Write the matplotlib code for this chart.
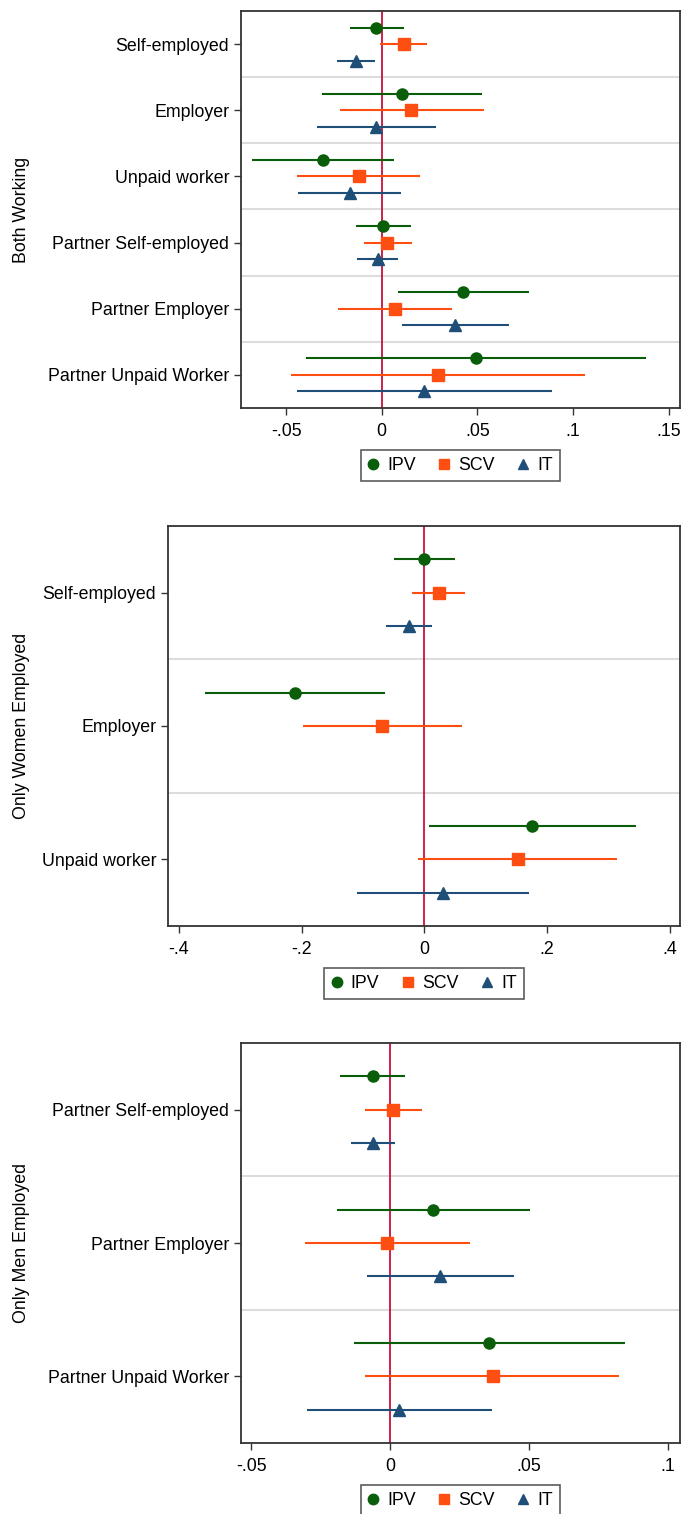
import numpy as np
import matplotlib
matplotlib.use("Agg")
from matplotlib import pyplot as plt
from matplotlib.lines import Line2D

plt.rcParams['font.family'] = ['Liberation Sans', 'DejaVu Sans']

# Блок данных: коэффициенты и доверительные интервалы
series = ["IPV", "SCV", "IT"]

cats_both = ["Self-employed", "Employer", "Unpaid worker",
             "Partner Self-employed", "Partner Employer", "Partner Unpaid Worker"]
both_ipv = [-0.003, 0.0107, -0.0309, 0.0007, 0.0427, 0.0493]
both_ipv_lo = [-0.0166, -0.0311, -0.0677, -0.0136, 0.0084, -0.0395]
both_ipv_hi = [0.0114, 0.0525, 0.0064, 0.0152, 0.077, 0.1382]
both_scv = [0.0116, 0.0155, -0.012, 0.003, 0.0068, 0.0293]
both_scv_lo = [-0.0007, -0.022, -0.0443, -0.0095, -0.0227, -0.0473]
both_scv_hi = [0.0239, 0.0534, 0.0202, 0.0159, 0.0368, 0.1061]
both_it = [-0.0134, -0.003, -0.0168, -0.002, 0.0384, 0.0223]
both_it_lo = [-0.0232, -0.0339, -0.0436, -0.013, 0.0105, -0.0441]
both_it_hi = [-0.0034, 0.0284, 0.0102, 0.0086, 0.0664, 0.0891]

cats_women = ["Self-employed", "Employer", "Unpaid worker"]
women_ipv = [0.0, -0.211, 0.175]
women_ipv_lo = [-0.05, -0.358, 0.007]
women_ipv_hi = [0.05, -0.0648, 0.345]
women_scv = [0.0235, -0.0683, 0.152]
women_scv_lo = [-0.02, -0.198, -0.01]
women_scv_hi = [0.066, 0.061, 0.315]
women_it = [-0.0256, np.nan, 0.0306]
women_it_lo = [-0.0626, np.nan, -0.1096]
women_it_hi = [0.012, np.nan, 0.170]

cats_men = ["Partner Self-employed", "Partner Employer", "Partner Unpaid Worker"]
men_ipv = [-0.00625, 0.0156, 0.0358]
men_ipv_lo = [-0.018, -0.019, -0.0128]
men_ipv_hi = [0.0055, 0.0505, 0.0845]
men_scv = [0.00125, -0.0011, 0.037]
men_scv_lo = [-0.009, -0.0308, -0.0089]
men_scv_hi = [0.0116, 0.029, 0.0825]
men_it = [-0.0061, 0.0181, 0.0034]
men_it_lo = [-0.014, -0.0084, -0.030]
men_it_hi = [0.0019, 0.0447, 0.0369]

colors = ["#0a5e0a", "#ff4e12", "#1f4e79"]
markers = ["o", "s", "^"]
offsets = [-0.25, 0.0, 0.25]

W, H = 682, 1514
fig = plt.figure(figsize=(W / 100, H / 100), dpi=100)


def panel(box, cats, est, lo, hi, xlim, xticks, xticklabels, ylabel):
    left, right, top, bottom = box
    ax = fig.add_axes([left / W, 1 - bottom / H, (right - left) / W, (bottom - top) / H])
    n = len(cats)
    base = np.arange(n) + 0.5
    for k in range(3):
        y = base + offsets[k]
        e = np.array(est[k], dtype=float)
        l = np.array(lo[k], dtype=float)
        h = np.array(hi[k], dtype=float)
        ax.hlines(y, l, h, color=colors[k], lw=1.5, zorder=3)
        ax.plot(e, y, linestyle="none", marker=markers[k], color=colors[k],
                markersize=8, zorder=4)
    for s in range(1, n):
        ax.axhline(s, color="#dcdcdc", lw=1.5, zorder=1)
    ax.axvline(0, color="#c8103e", lw=1.3, zorder=2)
    ax.set_ylim(n, 0)
    ax.set_xlim(*xlim)
    ax.set_yticks(base)
    ax.set_yticklabels(cats, fontsize=12.8)
    ax.set_xticks(xticks)
    ax.set_xticklabels(xticklabels, fontsize=12.8)
    ax.tick_params(axis="both", length=5, width=1, color="#333333")
    ax.tick_params(axis="x", pad=6)
    for sp in ax.spines.values():
        sp.set_color("#333333")
        sp.set_linewidth(1.3)
    fig.text(22 / W, 1 - (top + bottom) / 2 / H, ylabel, rotation=90,
             ha="center", va="center", fontsize=12.8)
    handles = [Line2D([], [], linestyle="none", marker=markers[k], color=colors[k],
                      markersize=7.5) for k in range(3)]
    leg = ax.legend(handles, series, loc="upper center", bbox_to_anchor=(0.5, -42 / (bottom - top)),
                    ncol=3, fontsize=12.8, frameon=True, fancybox=False, edgecolor="#333333",
                    handlelength=0.6, handletextpad=0.5, columnspacing=1.3, borderpad=0.4,
                    borderaxespad=0)
    leg.get_frame().set_linewidth(1.2)
    return ax


panel((241, 680, 11, 408), cats_both,
      [both_ipv, both_scv, both_it], [both_ipv_lo, both_scv_lo, both_it_lo],
      [both_ipv_hi, both_scv_hi, both_it_hi],
      (-0.0736, 0.156), [-0.05, 0, 0.05, 0.1, 0.15], ["-.05", "0", ".05", ".1", ".15"],
      "Both Working")

panel((168, 680, 526, 926), cats_women,
      [women_ipv, women_scv, women_it], [women_ipv_lo, women_scv_lo, women_it_lo],
      [women_ipv_hi, women_scv_hi, women_it_hi],
      (-0.418, 0.417), [-0.4, -0.2, 0, 0.2, 0.4], ["-.4", "-.2", "0", ".2", ".4"],
      "Only Women Employed")

panel((241, 680, 1043, 1443), cats_men,
      [men_ipv, men_scv, men_it], [men_ipv_lo, men_scv_lo, men_it_lo],
      [men_ipv_hi, men_scv_hi, men_it_hi],
      (-0.0537, 0.1045), [-0.05, 0, 0.05, 0.1], ["-.05", "0", ".05", ".1"],
      "Only Men Employed")

fig.savefig("out.png", dpi=100)
